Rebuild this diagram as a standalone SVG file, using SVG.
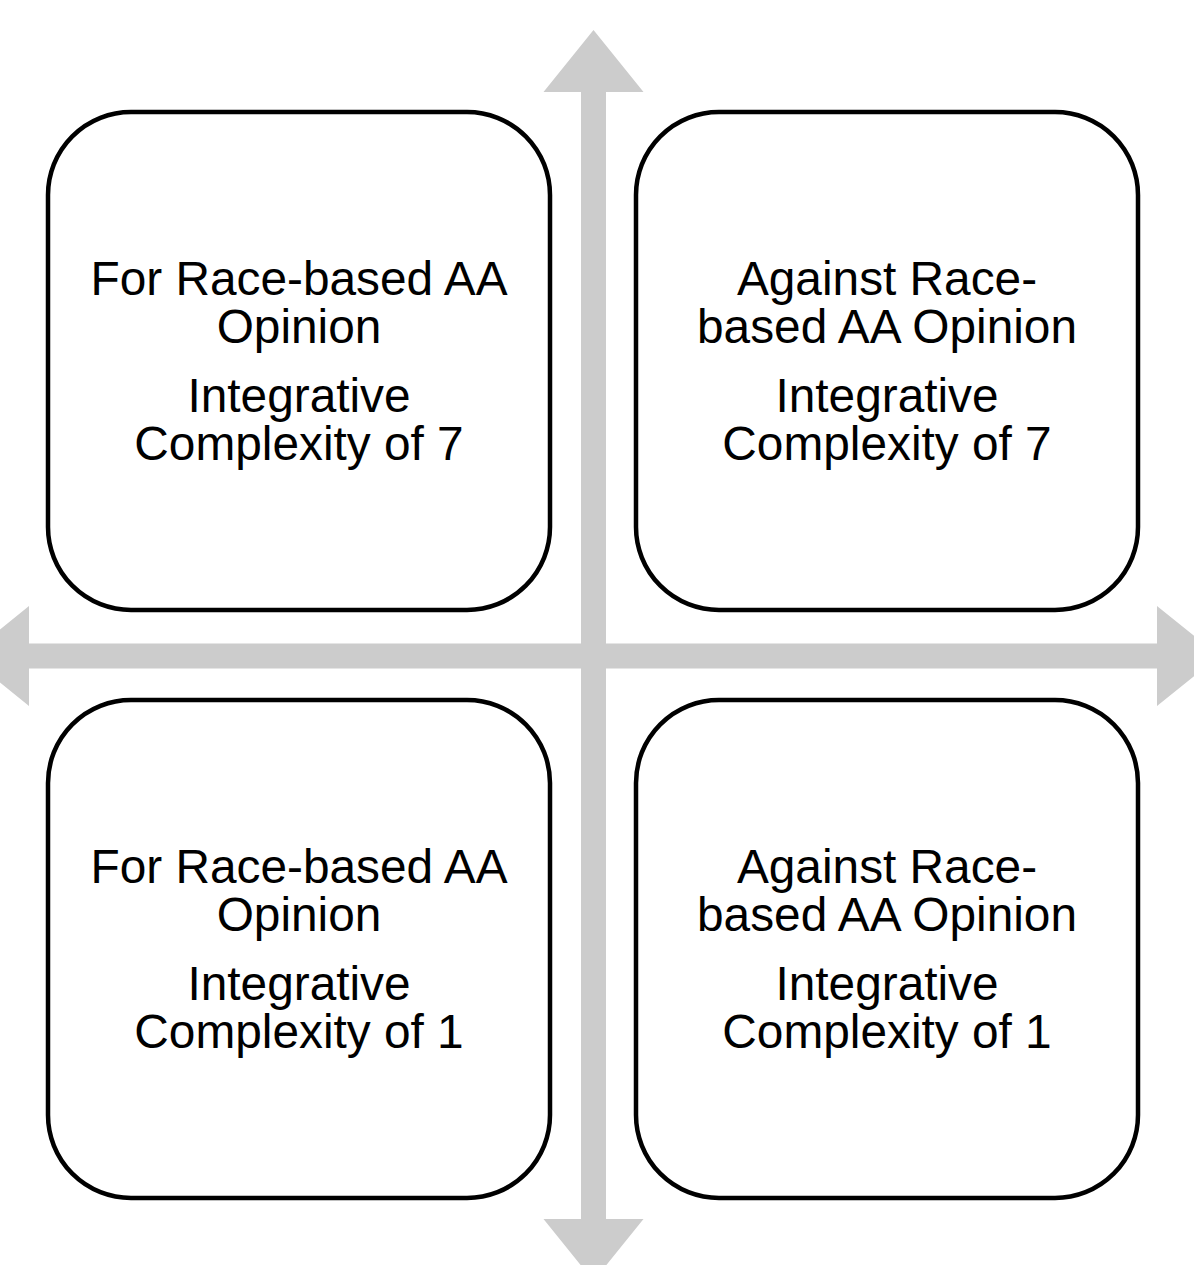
<svg xmlns="http://www.w3.org/2000/svg" width="1194" height="1265" viewBox="0 0 1194 1265">
<style>
.box{fill:#ffffff;stroke:#000000;stroke-width:4.5}
.arrow{fill:#cccccc;stroke:none}
.lbl{font-family:"Liberation Sans",Arial,sans-serif;font-size:47.8px;fill:#000000;text-anchor:middle}
</style>
<rect width="1194" height="1265" fill="#ffffff"/>
<g id="connectors">
<polygon class="arrow" points="593.5,30 643.5,92 606,92 606,1219 643.5,1219 593.5,1281 543.5,1219 581,1219 581,92 543.5,92"/>
<polygon class="arrow" points="-33,656 29,606 29,643.5 1157,643.5 1157,606 1219,656 1157,706 1157,668.5 29,668.5 29,706"/>
</g>
<g id="node-top-left">
<rect class="box" x="48" y="112" width="502" height="498" rx="83" ry="83"/>
<text class="lbl" x="299" y="295">For Race-based AA</text>
<text class="lbl" x="299" y="343">Opinion</text>
<text class="lbl" x="299" y="412">Integrative</text>
<text class="lbl" x="299" y="460">Complexity of 7</text>
</g>
<g id="node-top-right">
<rect class="box" x="636" y="112" width="502" height="498" rx="83" ry="83"/>
<text class="lbl" x="887" y="295">Against Race-</text>
<text class="lbl" x="887" y="343">based AA Opinion</text>
<text class="lbl" x="887" y="412">Integrative</text>
<text class="lbl" x="887" y="460">Complexity of 7</text>
</g>
<g id="node-bottom-left">
<rect class="box" x="48" y="700" width="502" height="498" rx="83" ry="83"/>
<text class="lbl" x="299" y="883">For Race-based AA</text>
<text class="lbl" x="299" y="931">Opinion</text>
<text class="lbl" x="299" y="1000">Integrative</text>
<text class="lbl" x="299" y="1048">Complexity of 1</text>
</g>
<g id="node-bottom-right">
<rect class="box" x="636" y="700" width="502" height="498" rx="83" ry="83"/>
<text class="lbl" x="887" y="883">Against Race-</text>
<text class="lbl" x="887" y="931">based AA Opinion</text>
<text class="lbl" x="887" y="1000">Integrative</text>
<text class="lbl" x="887" y="1048">Complexity of 1</text>
</g>
</svg>
